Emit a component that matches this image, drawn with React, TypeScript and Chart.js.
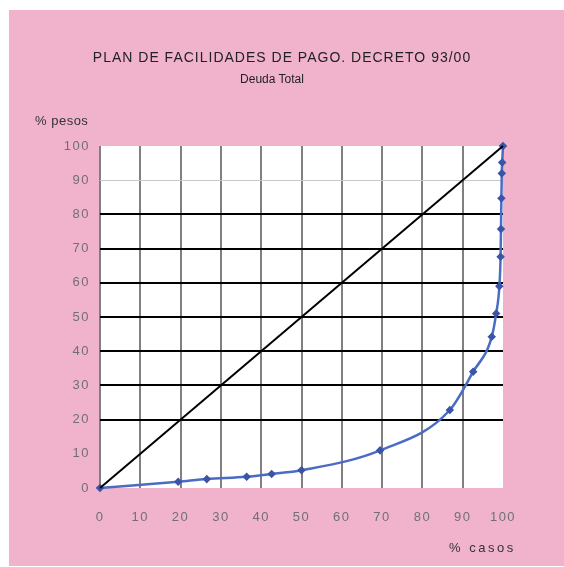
import React, { useEffect, useRef } from "react";
import { Chart, registerables } from "chart.js";
Chart.register(...registerables);

const TITLE = "PLAN DE FACILIDADES DE PAGO. DECRETO 93/00";
const SUBTITLE = "Deuda Total";
const Y_LABEL = "% pesos";
const X_LABEL = "% casos";

const casos = [0, 19.4, 26.5, 36.4, 42.6, 50, 69.5, 86.8, 92.6, 97.2, 98.3, 99.1, 99.4, 99.5, 99.6, 99.7, 99.8, 100];
const pesos = [0, 1.8, 2.6, 3.3, 4.1, 5.2, 11, 22.8, 34, 44.2, 51, 59, 67.6, 75.7, 84.7, 92, 95.2, 100];
const diagX = [0, 100];
const diagY = [0, 100];
const tickValues = [0, 10, 20, 30, 40, 50, 60, 70, 80, 90, 100];

const FONT = "'Liberation Sans', Arial, sans-serif";

export default function App() {
  const ref = useRef<HTMLCanvasElement | null>(null);
  useEffect(() => {
    if (!ref.current) return;
    const whiteArea = {
      id: "whiteArea",
      beforeInit(chart: any) {
        try { chart.ctx.letterSpacing = "1.5px"; } catch (e) {}
      },
      beforeDraw(chart: any) {
        const { ctx, chartArea: a } = chart;
        try { ctx.letterSpacing = "1.5px"; } catch (e) {}
        ctx.save();
        ctx.fillStyle = "#ffffff";
        ctx.fillRect(a.left, a.top, a.right - a.left, a.bottom - a.top);
        ctx.restore();
      },
    };
    const chart = new Chart(ref.current, {
      type: "scatter",
      data: {
        datasets: [
          {
            label: "diag",
            data: diagX.map((x, i) => ({ x, y: diagY[i] })),
            showLine: true,
            borderColor: "#000000",
            borderWidth: 2,
            pointRadius: 0,
            clip: false as any,
          },
          {
            label: "curva",
            data: casos.map((x, i) => ({ x, y: pesos[i] })),
            showLine: true,
            cubicInterpolationMode: "monotone",
            borderColor: "#4a6cc4",
            borderWidth: 2.5,
            pointRadius: 2.5,
            pointStyle: "rectRot",
            pointBackgroundColor: "#3a55a8",
            pointBorderColor: "#3a55a8",
            clip: false as any,
          },
        ],
      },
      options: {
        responsive: false,
        animation: false,
        devicePixelRatio: 1,
        layout: { padding: { left: 10, right: 61, top: 146, bottom: 39 } },
        plugins: { legend: { display: false }, tooltip: { enabled: false }, title: { display: false } },
        scales: {
          x: {
            type: "linear",
            min: 0,
            max: 100,
            afterBuildTicks: (s: any) => {
              s.ticks = tickValues.map((v) => ({ value: v }));
            },
            afterFit: (s: any) => {
              s.height = 40;
            },
            border: { display: false },
            grid: {
              drawTicks: false,
              color: (c: any) => (c.tick && c.tick.value < 100 ? "#808080" : "rgba(0,0,0,0)"),
              lineWidth: 2,
            },
            ticks: { color: "#707070", font: { family: FONT, size: 13 }, padding: 22, autoSkip: false, maxRotation: 0 },
          },
          y: {
            type: "linear",
            min: 0,
            max: 100,
            afterBuildTicks: (s: any) => {
              s.ticks = tickValues.map((v) => ({ value: v }));
            },
            afterFit: (s: any) => {
              s.width = 90;
            },
            border: { display: false },
            grid: {
              drawTicks: false,
              color: (c: any) => {
                const v = c.tick ? c.tick.value : -1;
                if (v >= 20 && v <= 80) return "#000000";
                if (v === 90) return "#c8c8c8";
                return "rgba(0,0,0,0)";
              },
              lineWidth: (c: any) => (c.tick && c.tick.value === 90 ? 1 : 2),
            },
            ticks: { color: "#707070", font: { family: FONT, size: 13 }, padding: 10, autoSkip: false },
          },
        },
      },
      plugins: [whiteArea],
    });
    return () => chart.destroy();
  }, []);

  return (
    <div style={{ position: "fixed", left: 0, top: 0, width: 564, height: 567, background: "#ffffff", overflow: "hidden" }}>
      <div style={{ position: "absolute", left: 9, top: 10, width: 555, height: 556, background: "#f0b3cb" }} />
      <canvas ref={ref} width={564} height={567} style={{ position: "absolute", left: 0, top: 0, width: 564, height: 567 }} />
      <div style={{ position: "absolute", left: 0, top: 49, width: 564, textAlign: "center", fontFamily: FONT, fontSize: 14, letterSpacing: "1px", lineHeight: "16px", color: "#222" }}>{TITLE}</div>
      <div style={{ position: "absolute", left: 0, top: 71, width: 544, textAlign: "center", fontFamily: FONT, fontSize: 12, lineHeight: "16px", color: "#222" }}>{SUBTITLE}</div>
      <div style={{ position: "absolute", left: 35, top: 113, fontFamily: FONT, fontSize: 13, letterSpacing: "0.5px", lineHeight: "16px", color: "#333" }}>{Y_LABEL}</div>
      <div style={{ position: "absolute", left: 449, top: 540, fontFamily: FONT, fontSize: 13, letterSpacing: "2.5px", lineHeight: "16px", color: "#333" }}>{X_LABEL}</div>
    </div>
  );
}
